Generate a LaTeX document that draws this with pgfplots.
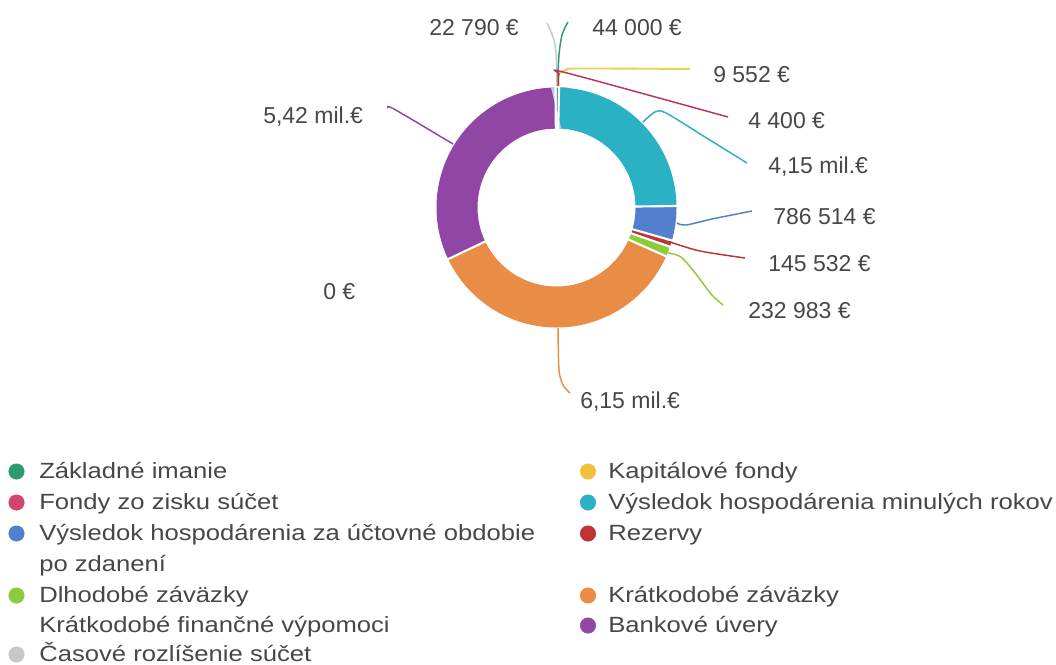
\documentclass[border=0pt]{standalone}
\usepackage{pgfplots}
\pgfplotsset{compat=1.18}
\usepackage{fontspec}
\setmainfont{Liberation Sans}
\newfontfamily\legfamily[FakeStretch=1.165]{Liberation Sans}
\newcommand\LF{\legfamily\fontsize{16.5}{19}\selectfont}
\newcommand\VF{\fontsize{17.25}{20}\selectfont}

\definecolor{cGreen}{HTML}{2E9B6E}
\definecolor{cYellow}{HTML}{F2C13A}
\definecolor{cYellowL}{HTML}{E6D44A}
\definecolor{cPink}{HTML}{D2466E}
\definecolor{cPinkL}{HTML}{B8345E}
\definecolor{cTeal}{HTML}{2AB1C4}
\definecolor{cBlue}{HTML}{5280CE}
\definecolor{cRed}{HTML}{BE3434}
\definecolor{cLime}{HTML}{8CCC3C}
\definecolor{cOrange}{HTML}{E98C46}
\definecolor{cPurple}{HTML}{9146A6}
\definecolor{cGray}{HTML}{C5C9CE}
\definecolor{txt}{HTML}{474747}

% values in millions of EUR, clockwise from the top
\def\vals{0.044,0.009552,0.0044,4.15,0.786514,0.145532,0.232983,6.15,0,5.42,0.02279}
\gdef\tot{0}
\foreach \v in \vals {\pgfmathsetmacro\t{\tot+\v}\xdef\tot{\t}}
\gdef\cum{0}
\foreach \v [count=\i] in \vals {%
  \pgfmathsetmacro\e{\cum+360*\v/\tot}%
  \expandafter\xdef\csname sa\i\endcsname{\cum}%
  \expandafter\xdef\csname ea\i\endcsname{\e}%
  \xdef\cum{\e}}
\newcommand\SA[1]{\csname sa#1\endcsname}
\newcommand\EA[1]{\csname ea#1\endcsname}

\tikzset{slice/.style={mark=none, line width=30.75pt, samples=100},
  lead/.style={mark=none, smooth, line width=1.1pt},
  sep/.style={mark=none, white, line width=1.6pt, domain=77:122, samples=2},
  lab/.style={anchor=base west, inner sep=0pt, text=txt, font=\VF},
  leg/.style={anchor=base west, inner sep=0pt, text=txt, font=\LF},
  dot/.style={only marks, mark=*, mark size=5.8pt}}

\begin{document}
\begin{tikzpicture}
\path[use as bounding box] (0,0) rectangle (792pt,498pt);
\begin{axis}[at={(396pt,249pt)}, anchor=center, scale only axis,
  width=792pt, height=498pt, xmin=0, xmax=1056, ymin=0, ymax=664,
  y dir=reverse, hide axis, clip=false]
% donut slices
\addplot[slice, cGreen, domain=\SA{1}:\EA{1}] ({556.5+99.5*sin(x)},{207.5-99.5*cos(x)});
\addplot[slice, cYellow, domain=\SA{2}:\EA{2}] ({556.5+99.5*sin(x)},{207.5-99.5*cos(x)});
\addplot[slice, cPink, domain=\SA{3}:\EA{3}] ({556.5+99.5*sin(x)},{207.5-99.5*cos(x)});
\addplot[slice, cTeal, domain=\SA{4}:\EA{4}] ({556.5+99.5*sin(x)},{207.5-99.5*cos(x)});
\addplot[slice, cBlue, domain=\SA{5}:\EA{5}] ({556.5+99.5*sin(x)},{207.5-99.5*cos(x)});
\addplot[slice, cRed, domain=\SA{6}:\EA{6}] ({556.5+99.5*sin(x)},{207.5-99.5*cos(x)});
\addplot[slice, cLime, domain=\SA{7}:\EA{7}] ({556.5+99.5*sin(x)},{207.5-99.5*cos(x)});
\addplot[slice, cOrange, domain=\SA{8}:\EA{8}] ({556.5+99.5*sin(x)},{207.5-99.5*cos(x)});
\addplot[slice, cPurple, domain=\SA{10}:\EA{10}] ({556.5+99.5*sin(x)},{207.5-99.5*cos(x)});
\addplot[slice, cGray, domain=\SA{11}:\EA{11}] ({556.5+99.5*sin(x)},{207.5-99.5*cos(x)});
% separators
\addplot[sep] ({556.5+x*sin(\SA{4})},{207.5-x*cos(\SA{4})});
\addplot[sep] ({556.5+x*sin(\SA{5})},{207.5-x*cos(\SA{5})});
\addplot[sep] ({556.5+x*sin(\SA{6})},{207.5-x*cos(\SA{6})});
\addplot[sep] ({556.5+x*sin(\SA{7})},{207.5-x*cos(\SA{7})});
\addplot[sep] ({556.5+x*sin(\SA{8})},{207.5-x*cos(\SA{8})});
\addplot[sep] ({556.5+x*sin(\SA{10})},{207.5-x*cos(\SA{10})});
\addplot[sep] ({556.5+x*sin(\EA{10})},{207.5-x*cos(\EA{10})});
% leader lines
\addplot[lead, cGray] coordinates {(557,86) (556.5,60) (554,40) (547,23)};
\addplot[lead, cGreen] coordinates {(557.5,86) (559,55) (562,35) (568,22)};
\addplot[lead, cYellowL, line width=1.4pt] coordinates {(558.5,86) (559,74) (566,70) (578,68.5) (690,69)};
\addplot[lead, cPinkL] coordinates {(558.5,86) (559,74) (567,73) (728,117)};
\addplot[lead, cTeal] coordinates {(643,122) (655,112) (666,113) (705,137) (747,163)};
\addplot[lead, cBlue] coordinates {(677,223) (686,225) (712,219) (752,211)};
\addplot[lead, cRed] coordinates {(670,242) (700,251) (745,258)};
\addplot[lead, cLime] coordinates {(668,253) (681,257) (696,274) (711,294) (723,305)};
\addplot[lead, cOrange] coordinates {(558,328) (559,370) (563,385) (570,393)};
\addplot[lead, cPurple] coordinates {(388,108) (394,109) (453,144)};
% value labels
\node[lab] at (axis cs:429,35) {22 790 €};
\node[lab] at (axis cs:592,35) {44 000 €};
\node[lab] at (axis cs:713,82) {9 552 €};
\node[lab] at (axis cs:748,128) {4 400 €};
\node[lab] at (axis cs:768,173) {4,15 mil.€};
\node[lab] at (axis cs:773,224) {786 514 €};
\node[lab] at (axis cs:768,271) {145 532 €};
\node[lab] at (axis cs:748,318) {232 983 €};
\node[lab] at (axis cs:580,408) {6,15 mil.€};
\node[lab] at (axis cs:263,123) {5,42 mil.€};
\node[lab] at (axis cs:323,299) {0 €};
% legend
\addplot[dot, cGreen] coordinates {(16.5,471.5)};
\addplot[dot, cPink] coordinates {(16.5,502.5)};
\addplot[dot, cBlue] coordinates {(16.5,533.5)};
\addplot[dot, cLime] coordinates {(16.5,595.5)};
\addplot[dot, white] coordinates {(16.5,625.5)};
\addplot[dot, cGray] coordinates {(16.5,654.5)};
\addplot[dot, cYellow] coordinates {(588,471.5)};
\addplot[dot, cTeal] coordinates {(588,502.5)};
\addplot[dot, cRed] coordinates {(588,533.5)};
\addplot[dot, cOrange] coordinates {(588,595.5)};
\addplot[dot, cPurple] coordinates {(588,625.5)};
\node[leg] at (axis cs:39,478) {Základné imanie};
\node[leg] at (axis cs:39,509) {Fondy zo zisku súčet};
\node[leg] at (axis cs:39,540) {Výsledok hospodárenia za účtovné obdobie};
\node[leg] at (axis cs:39,571) {po zdanení};
\node[leg] at (axis cs:39,602) {Dlhodobé záväzky};
\node[leg] at (axis cs:39,632) {Krátkodobé finančné výpomoci};
\node[leg] at (axis cs:39,661) {Časové rozlíšenie súčet};
\node[leg] at (axis cs:608,478) {Kapitálové fondy};
\node[leg] at (axis cs:608,509) {Výsledok hospodárenia minulých rokov};
\node[leg] at (axis cs:608,540) {Rezervy};
\node[leg] at (axis cs:608,602) {Krátkodobé záväzky};
\node[leg] at (axis cs:608,632) {Bankové úvery};
\end{axis}
\end{tikzpicture}
\end{document}
